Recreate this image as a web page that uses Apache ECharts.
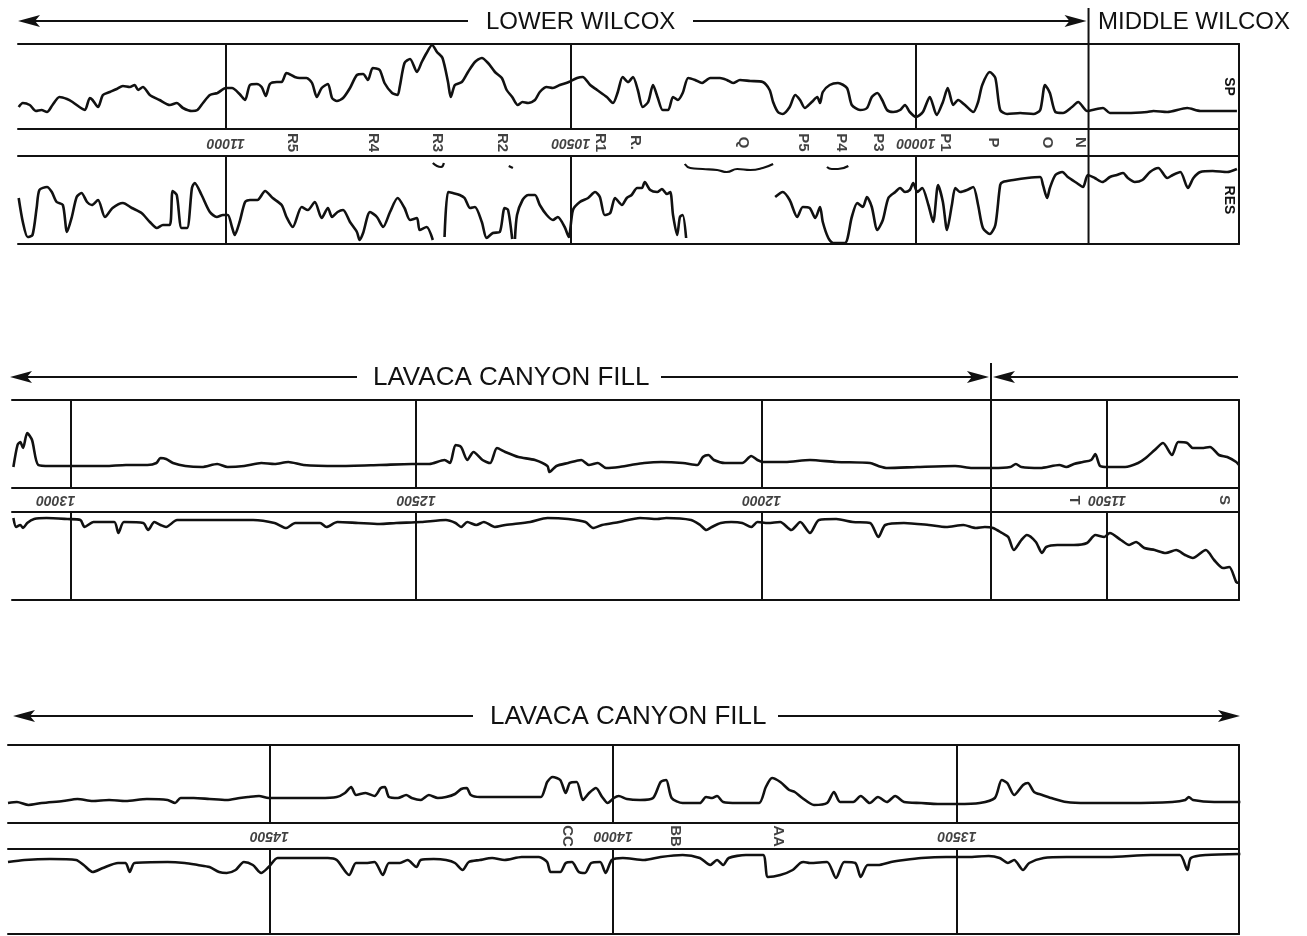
<!DOCTYPE html>
<html><head><meta charset="utf-8">
<script src="https://cdn.jsdelivr.net/npm/echarts@6/dist/echarts.min.js"></script>
<style>html,body{margin:0;padding:0;background:#fff}#c{width:1307px;height:936px}</style>
</head><body><div id="c"></div>
<script>
// ---------------- DATA (depth in ft, deflection in relative chart units) ----------------
const depthTicks1 = [11000, 10500, 10000];
const depthTicks2 = [13000, 12500, 12000, 11500];
const depthTicks3 = [14500, 14000, 13500];
const tickLabels1 = ['11000', '10500', '10000'];
const tickLabels2 = ['13000', '12500', '12000', '11500'];
const tickLabels3 = ['14500', '14000', '13500'];
const markerNames1 = ['R5','R4','R3','R2','R1','R.','Q','P5','P4','P3','P1','P','O','N'];
const markerDepths1 = [10904,10787,10694,10599,10458,10407,10251,10164,10109,10055,9958,9888,9810,9762];
const markerNames2 = ['T','S'];
const markerDepths2 = [11548,11330];
const markerNames3 = ['CC','BB','AA'];
const markerDepths3 = [14067,13910,13760];
const boundary1 = 9750;   // Lower / Middle Wilcox
const boundary2 = 11668;  // Lavaca canyon fill base

const sp1Curve = [[11300,22],[11294,26],[11284,24],[11275,18],[11267,19],[11259,17],[11251,24],[11241,32],[11230,30],[11222,27],[11212,22],[11204,19],[11197,31],[11193,29],[11185,22],[11178,34],[11168,37],[11158,40],[11149,43],[11139,42],[11132,44],[11127,39],[11120,42],[11110,34],[11096,29],[11081,24],[11071,26],[11062,21],[11049,18],[11041,19],[11033,26],[11023,34],[11012,36],[11000,41],[10991,41],[10980,35],[10972,29],[10965,44],[10955,45],[10948,42],[10942,33],[10936,45],[10926,47],[10919,47],[10912,56],[10900,52],[10893,51],[10883,51],[10875,46],[10868,32],[10861,41],[10852,45],[10846,31],[10839,28],[10830,31],[10820,41],[10810,54],[10801,55],[10794,49],[10787,61],[10777,59],[10770,46],[10759,36],[10751,34],[10748,42],[10741,66],[10733,70],[10723,57],[10716,67],[10709,76],[10701,84],[10694,77],[10686,71],[10678,47],[10674,32],[10668,44],[10658,47],[10649,57],[10639,67],[10629,71],[10620,66],[10610,57],[10600,51],[10593,39],[10585,32],[10577,24],[10570,27],[10562,26],[10552,29],[10545,37],[10535,42],[10526,41],[10516,44],[10503,47],[10491,51],[10483,52],[10472,44],[10462,39],[10448,32],[10439,26],[10432,37],[10425,52],[10417,47],[10410,52],[10403,39],[10396,22],[10388,27],[10381,44],[10374,31],[10367,19],[10359,19],[10352,32],[10345,29],[10338,36],[10330,51],[10320,49],[10310,46],[10298,51],[10284,51],[10274,49],[10265,46],[10255,49],[10240,48],[10222,47],[10212,39],[10207,27],[10200,17],[10193,15],[10183,22],[10175,34],[10168,29],[10161,21],[10151,27],[10143,32],[10139,26],[10135,37],[10125,44],[10113,46],[10100,41],[10093,24],[10081,19],[10071,21],[10064,32],[10056,36],[10049,29],[10042,19],[10033,17],[10023,19],[10016,24],[10009,17],[10000,12],[9990,17],[9980,32],[9970,14],[9961,27],[9954,41],[9946,24],[9939,29],[9929,24],[9917,17],[9910,27],[9904,44],[9893,57],[9885,51],[9878,19],[9868,15],[9849,16],[9830,15],[9820,19],[9813,44],[9806,36],[9798,17],[9787,16],[9774,22],[9765,27],[9752,18],[9738,20],[9729,21],[9719,16],[9694,16],[9665,17],[9656,18],[9636,17],[9607,21],[9588,18],[9559,18],[9535,18]];

const res1Curve = [[11300,46],[11294,22],[11287,7],[11280,9],[11274,36],[11270,54],[11259,57],[11252,52],[11245,42],[11236,39],[11230,12],[11223,27],[11216,47],[11209,51],[11201,42],[11194,39],[11185,44],[11175,27],[11164,36],[11149,41],[11136,36],[11122,31],[11110,22],[11100,16],[11091,19],[11081,19],[11077,53],[11071,49],[11064,16],[11056,16],[11049,56],[11045,61],[11035,49],[11023,32],[11013,27],[11004,29],[10997,29],[10991,17],[10987,9],[10980,22],[10972,42],[10965,44],[10954,44],[10943,53],[10932,46],[10919,39],[10912,27],[10903,17],[10890,37],[10881,34],[10871,42],[10861,26],[10852,36],[10846,27],[10838,32],[10830,34],[10820,22],[10810,12],[10806,4],[10801,11],[10791,32],[10781,27],[10772,17],[10762,32],[10751,46],[10741,36],[10733,24],[10723,26],[10719,14],[10709,17],[10700,4],[10692,'-'],[10683,7],[10678,52],[10671,51],[10661,49],[10654,46],[10646,36],[10639,37],[10629,22],[10622,6],[10613,11],[10603,12],[10596,36],[10591,34],[10585,5],[10583,'-'],[10581,5],[10578,29],[10570,44],[10562,49],[10552,49],[10545,39],[10535,29],[10526,24],[10519,27],[10509,17],[10503,7],[10497,34],[10487,42],[10475,46],[10465,52],[10458,47],[10451,29],[10443,31],[10436,46],[10426,39],[10419,46],[10412,49],[10404,56],[10397,56],[10393,62],[10385,54],[10375,52],[10368,55],[10361,50],[10356,52],[10352,29],[10346,9],[10342,27],[10338,29],[10333,6],[10300,'-'],[10204,47],[10193,52],[10183,44],[10172,27],[10164,37],[10154,36],[10146,26],[10139,37],[10135,22],[10127,6],[10120,1],[10103,1],[10093,27],[10085,41],[10077,37],[10071,47],[10064,37],[10056,14],[10048,24],[10040,46],[10030,52],[10023,56],[10016,52],[10009,54],[10004,61],[9998,52],[9991,56],[9982,39],[9975,22],[9968,59],[9961,42],[9955,14],[9948,39],[9943,56],[9936,52],[9926,54],[9917,57],[9910,39],[9903,16],[9893,10],[9885,19],[9878,59],[9874,62],[9859,64],[9839,66],[9820,67],[9816,59],[9810,46],[9806,56],[9798,69],[9788,72],[9780,67],[9767,61],[9758,57],[9751,69],[9741,66],[9730,62],[9719,67],[9709,69],[9700,71],[9693,66],[9683,62],[9672,64],[9661,72],[9649,76],[9636,66],[9628,69],[9617,72],[9606,56],[9598,66],[9588,72],[9570,73],[9549,72],[9535,75]];

const qBracket = [[10335,80],[10327,76],[10309,75],[10288,74],[10274,72],[10259,75],[10240,74],[10222,76],[10207,80]];
const p4Bracket = [[10129,77],[10122,75],[10113,75],[10098,78]];
const r3Mark = [[10700,81],[10694,78],[10688,77],[10684,81]];
const r2Mark = [[10590,78],[10584,76]];

const sp2Curve = [[13083,21],[13077,43],[13073,46],[13069,40],[13063,55],[13056,48],[13047,23],[13030,22],[12998,22],[12950,22],[12920,23],[12889,23],[12876,25],[12870,30],[12862,29],[12852,25],[12834,22],[12810,21],[12788,24],[12773,21],[12749,22],[12724,25],[12705,24],[12685,26],[12663,23],[12614,22],[12553,23],[12506,24],[12481,24],[12459,28],[12451,25],[12443,43],[12435,41],[12426,28],[12417,36],[12404,28],[12393,25],[12383,40],[12371,36],[12352,31],[12328,28],[12310,22],[12307,16],[12297,22],[12280,25],[12261,28],[12250,23],[12237,25],[12225,20],[12206,21],[12189,23],[12170,25],[12145,26],[12114,25],[12093,23],[12085,31],[12077,33],[12069,28],[12053,25],[12028,25],[12015,32],[12006,28],[11998,26],[11966,26],[11930,28],[11892,26],[11843,25],[11831,22],[11818,20],[11775,21],[11720,22],[11695,20],[11665,20],[11640,21],[11632,24],[11624,21],[11597,20],[11569,23],[11559,21],[11548,24],[11535,26],[11523,28],[11517,34],[11510,22],[11499,21],[11474,21],[11455,25],[11444,30],[11431,38],[11419,45],[11406,33],[11397,46],[11384,45],[11376,40],[11363,40],[11351,41],[11338,33],[11326,31],[11313,26],[11309,23]];

const res2Curve = [[13083,82],[13079,73],[13073,75],[13069,72],[13063,77],[13053,81],[13035,82],[13005,81],[12986,80],[12980,73],[12967,78],[12937,78],[12931,67],[12923,78],[12895,77],[12888,70],[12879,78],[12870,75],[12862,73],[12846,80],[12798,80],[12736,80],[12705,77],[12688,72],[12675,77],[12639,77],[12630,73],[12614,78],[12584,77],[12553,76],[12529,77],[12493,78],[12457,80],[12443,77],[12435,73],[12426,78],[12413,75],[12402,78],[12386,73],[12371,75],[12335,78],[12310,82],[12280,81],[12255,78],[12244,72],[12231,75],[12206,78],[12176,82],[12151,81],[12138,82],[12102,80],[12089,75],[12080,70],[12072,73],[12059,77],[12044,78],[12028,77],[12015,73],[12006,78],[11991,77],[11973,78],[11957,70],[11944,78],[11930,67],[11917,80],[11892,81],[11868,78],[11843,77],[11831,63],[11821,75],[11794,77],[11758,75],[11733,73],[11708,75],[11690,72],[11677,73],[11665,72],[11652,67],[11643,63],[11635,50],[11624,60],[11616,65],[11603,58],[11594,47],[11588,53],[11572,55],[11548,55],[11529,57],[11517,65],[11504,63],[11496,67],[11480,60],[11468,55],[11458,58],[11446,52],[11431,50],[11415,47],[11400,50],[11387,45],[11376,42],[11357,50],[11345,40],[11332,32],[11323,33],[11313,18],[11309,17]];

const sp3Curve = [[14880,20],[14867,21],[14850,18],[14831,20],[14800,22],[14779,24],[14757,22],[14733,23],[14709,22],[14678,24],[14648,23],[14637,20],[14629,25],[14610,25],[14587,24],[14562,23],[14543,25],[14531,26],[14515,27],[14501,25],[14463,25],[14427,25],[14402,26],[14390,30],[14381,36],[14374,28],[14360,30],[14347,27],[14338,35],[14332,36],[14326,26],[14313,25],[14301,28],[14293,25],[14280,23],[14268,28],[14255,25],[14243,26],[14230,29],[14221,34],[14213,35],[14207,28],[14194,26],[14169,26],[14146,26],[14121,26],[14105,26],[14099,35],[14096,41],[14088,46],[14077,43],[14069,30],[14063,40],[14053,41],[14044,23],[14035,30],[14025,35],[14016,26],[14008,20],[13999,25],[13992,27],[13980,24],[13961,23],[13942,25],[13931,41],[13923,43],[13915,25],[13899,20],[13874,20],[13865,26],[13856,25],[13849,27],[13840,21],[13819,20],[13788,20],[13778,36],[13769,45],[13757,41],[13744,33],[13736,31],[13725,25],[13708,18],[13689,20],[13679,31],[13670,21],[13651,21],[13640,27],[13627,20],[13615,26],[13602,21],[13590,27],[13577,21],[13552,20],[13528,19],[13500,19],[13467,20],[13445,25],[13435,43],[13427,40],[13417,28],[13404,38],[13397,40],[13388,31],[13376,28],[13363,25],[13341,21],[13311,20],[13250,20],[13187,21],[13168,23],[13163,26],[13157,23],[13126,21],[13088,21]];

const res3Curve = [[14880,72],[14856,74],[14819,75],[14781,74],[14770,69],[14757,62],[14742,66],[14720,71],[14709,71],[14703,62],[14696,71],[14648,72],[14623,71],[14604,69],[14587,67],[14573,62],[14562,61],[14549,64],[14537,72],[14524,69],[14512,61],[14501,67],[14488,76],[14463,76],[14415,76],[14402,74],[14384,59],[14374,71],[14360,71],[14347,72],[14335,59],[14326,71],[14310,71],[14299,74],[14286,67],[14280,74],[14261,75],[14243,74],[14230,71],[14219,64],[14210,72],[14194,74],[14176,76],[14158,74],[14133,77],[14108,77],[14096,72],[14091,62],[14077,62],[14069,71],[14060,72],[14050,62],[14041,61],[14032,71],[14019,72],[14011,61],[14002,74],[13986,76],[13955,74],[13931,77],[13899,79],[13874,76],[13859,69],[13849,74],[13840,69],[13832,76],[13807,79],[13782,79],[13775,57],[13757,59],[13739,64],[13728,71],[13723,72],[13714,71],[13689,72],[13676,56],[13664,72],[13648,71],[13640,57],[13630,69],[13615,69],[13596,72],[13577,74],[13552,76],[13516,77],[13484,77],[13454,78],[13438,76],[13426,71],[13417,74],[13404,64],[13395,71],[13374,76],[13341,77],[13280,77],[13218,79],[13176,79],[13165,64],[13160,76],[13138,79],[13088,80]];

// ---------------- CHART ----------------
const INK = '#111';
const FONT = '"Liberation Sans", Arial, Helvetica, sans-serif';
const chart = echarts.init(document.getElementById('c'), null, {renderer: 'canvas'});

const layout = [
  {left: 18, sp: [44, 85], band: [129, 27], res: [156, 88], min: 9532, max: 11301},
  {left: 12, sp: [400, 88], band: [488, 24], res: [512, 88], min: 11309, max: 13085},
  {left: 8,  sp: [745, 78], band: [823, 26], res: [849, 85], min: 13090, max: 14880}
];
const strips = [
  {sp: sp1Curve, res: res1Curve, ticks: depthTicks1, tickLabels: tickLabels1, mNames: markerNames1, mDepths: markerDepths1},
  {sp: sp2Curve, res: res2Curve, ticks: depthTicks2, tickLabels: tickLabels2, mNames: markerNames2, mDepths: markerDepths2},
  {sp: sp3Curve, res: res3Curve, ticks: depthTicks3, tickLabels: tickLabels3, mNames: markerNames3, mDepths: markerDepths3}
];

const grid = [], xAxis = [], yAxis = [], series = [];
const axLine = {show: true, onZero: false, lineStyle: {color: INK, width: 2}};
function xA(gi, L, pos) {
  return {gridIndex: gi, type: 'value', position: pos, min: L.min, max: L.max, inverse: true,
    axisLine: axLine, axisTick: {show: false}, axisLabel: {show: false}, splitLine: {show: false}};
}
function yA(gi, max, name) {
  const o = {gridIndex: gi, type: 'value', position: 'right', min: 0, max: max,
    axisLine: axLine, axisTick: {show: false}, axisLabel: {show: false}, splitLine: {show: false}};
  if (name) {
    Object.assign(o, {name: name, nameLocation: 'middle', nameRotate: -90, nameGap: -17,
      nameTextStyle: {color: INK, fontSize: 14, fontWeight: 'bold', fontFamily: FONT}});
  }
  return o;
}
function markLines(ticks) {
  return {silent: true, symbol: ['none', 'none'], label: {show: false}, animation: false,
    lineStyle: {color: INK, width: 2, type: 'solid'}, emphasis: {disabled: true},
    data: ticks.map(v => ({xAxis: v}))};
}
function curve(idx, data, ticks, width) {
  return {type: 'line', xAxisIndex: idx, yAxisIndex: idx, data: data, showSymbol: false, symbol: 'none',
    smooth: 0.25, connectNulls: false, clip: true, lineStyle: {color: INK, width: width || 2.6},
    markLine: ticks ? markLines(ticks) : undefined, silent: true, z: 3};
}

layout.forEach((L, s) => {
  const st = strips[s];
  const base = s * 3;
  [L.sp, L.band, L.res].forEach(r => grid.push({left: L.left, right: 68, top: r[0], height: r[1], containLabel: false}));
  xAxis.push(xA(base, L, 'bottom'), xA(base + 1, L, 'bottom'), xA(base + 2, L, 'bottom'));
  yAxis.push(yA(base, L.sp[1], s === 0 ? 'SP' : null), yA(base + 1, 1, null), yA(base + 2, L.res[1], s === 0 ? 'RES' : null));
  series.push(curve(base, st.sp, st.ticks));
  series.push(curve(base + 2, st.res, st.ticks));
  // depth labels (upside-down, as printed on the log)
  series.push({type: 'scatter', xAxisIndex: base + 1, yAxisIndex: base + 1, symbolSize: 0, silent: true,
    data: st.ticks.map((d, i) => {
      const item = {name: st.tickLabels[i], value: [d, 0.5]};
      if (s === 1 && i === 0) item.label = {offset: [15, 0]};
      return item;
    }),
    label: {show: true, position: 'inside', formatter: '{b}', rotate: 180, color: INK,
      fontSize: 14, fontWeight: 'bold', fontStyle: 'italic', fontFamily: FONT}});
  // marker letters (rotated)
  series.push({type: 'scatter', xAxisIndex: base + 1, yAxisIndex: base + 1, symbolSize: 0, silent: true,
    data: st.mDepths.map((d, i) => ({name: st.mNames[i], value: [d, 0.5]})),
    label: {show: true, position: 'inside', formatter: '{b}', rotate: -90, color: INK,
      fontSize: 15, fontWeight: 'bold', fontFamily: FONT}});
});
// top frame lines of each strip
layout.forEach((L, s) => xAxis.push(xA(s * 3, L, 'top')));
// small brackets in strip 1 resistivity track
[qBracket, p4Bracket, r3Mark, r2Mark].forEach(b => series.push(Object.assign(curve(2, b, null, 2.2), {smooth: 0.5})));

chart.setOption({animation: false, backgroundColor: '#fff', grid, xAxis, yAxis, series});

// ---------------- TITLES / ZONE ARROWS ----------------
const bx1 = chart.convertToPixel({xAxisIndex: 0}, boundary1);
const bx2 = chart.convertToPixel({xAxisIndex: 3}, boundary2);
const g = [];
function ln(x1, y1, x2, y2) { g.push({type: 'line', silent: true, z: 10, shape: {x1, y1, x2, y2}, style: {stroke: INK, lineWidth: 2}}); }
function arrow(tip, y, dir) { // dir -1 points left, +1 points right
  g.push({type: 'polygon', silent: true, z: 10, shape: {points: [[tip, y], [tip - dir * 22, y - 6], [tip - dir * 17, y], [tip - dir * 22, y + 6]]}, style: {fill: INK}});
}
function txt(x, y, t, size) {
  g.push({type: 'text', silent: true, z: 10, x: x, y: y, style: {text: t, fill: INK, font: size + 'px ' + FONT, align: 'left', verticalAlign: 'middle'}});
}
// strip 1
arrow(18, 21, -1); ln(30, 21, 468, 21); txt(486, 22, 'LOWER WILCOX', 24);
ln(693, 21, bx1 - 10, 21); arrow(bx1 - 2, 21, 1); ln(bx1, 8, bx1, 244); txt(1098, 22, 'MIDDLE WILCOX', 24);
// strip 2
arrow(10, 377, -1); ln(22, 377, 357, 377); txt(373, 378, 'LAVACA CANYON FILL', 26);
ln(661, 377, bx2 - 10, 377); arrow(bx2 - 2, 377, 1); ln(bx2, 363, bx2, 600);
arrow(bx2 + 2, 377, -1); ln(bx2 + 10, 377, 1238, 377);
// strip 3
arrow(13, 716, -1); ln(25, 716, 473, 716); txt(490, 717, 'LAVACA CANYON FILL', 26);
ln(778, 716, 1230, 716); arrow(1240, 716, 1);
chart.setOption({graphic: g});
</script></body></html>
